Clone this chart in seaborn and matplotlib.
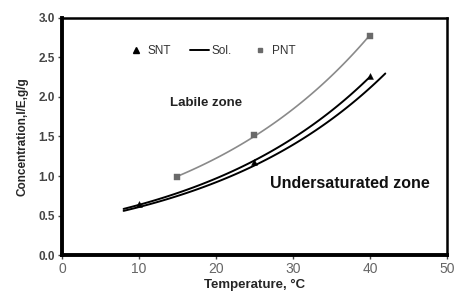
import numpy as np
import pandas as pd
import matplotlib
matplotlib.use("Agg")
import matplotlib.pyplot as plt
from matplotlib.lines import Line2D
import seaborn as sns

# data
snt_temp = [10, 25, 40]
snt_conc = [0.64, 1.18, 2.27]
pnt_temp = [15, 25, 40]
pnt_conc = [0.99, 1.52, 2.77]
sol_temp = [8, 25, 42]
sol_conc = [0.56, 1.13, 2.30]

x_ticks = [0, 10, 20, 30, 40, 50]
y_ticks = [0.0, 0.5, 1.0, 1.5, 2.0, 2.5, 3.0]

sns.set_theme(style="white")
plt.rcParams['font.family'] = ['Liberation Sans', 'DejaVu Sans']

def exp_fit(xs, ys, x0, x1):
    b, ln_a = np.polyfit(xs, np.log(ys), 1)
    xx = np.linspace(x0, x1, 100)
    return pd.DataFrame({"x": xx, "y": np.exp(ln_a + b * xx)})

fig = plt.figure(figsize=(4.56, 2.98), dpi=100)
ax = fig.add_axes([0.136, 0.144, 0.844, 0.796])

pnt_curve = exp_fit(pnt_temp, pnt_conc, 15, 40)
snt_curve = exp_fit(snt_temp, snt_conc, 8, 40)
sol_curve = exp_fit(sol_temp, sol_conc, 8, 42)

sns.lineplot(data=pnt_curve, x="x", y="y", ax=ax, color="#8a8a8a", linewidth=1.2)
sns.lineplot(data=snt_curve, x="x", y="y", ax=ax, color="black", linewidth=1.4)
sns.lineplot(data=sol_curve, x="x", y="y", ax=ax, color="black", linewidth=1.4)

sns.scatterplot(x=snt_temp, y=snt_conc, ax=ax, marker="^", color="black", s=18, edgecolor="black", zorder=5)
sns.scatterplot(x=pnt_temp, y=pnt_conc, ax=ax, marker="s", color="#6a6a6a", s=14, edgecolor="#6a6a6a", zorder=5)

ax.set_xlim(0, 50)
ax.set_ylim(0, 3.0)
ax.set_xticks(x_ticks)
ax.set_yticks(y_ticks)
ax.set_yticklabels([f"{v:.1f}" for v in y_ticks], fontweight="bold", color="#444444", fontsize=8.5)
ax.set_xticklabels([str(v) for v in x_ticks], color="#666666", fontsize=10)
ax.tick_params(axis="both", direction="out", length=3, width=1, color="#444444", pad=2, left=True, bottom=True)

ax.set_xlabel("Temperature, °C", fontweight="bold", fontsize=9.5, labelpad=2)
ax.set_ylabel("Concentration,l/E,g/g", fontweight="bold", fontsize=8.5, labelpad=7)

for side in ["left", "bottom"]:
    ax.spines[side].set_linewidth(2.8)
    ax.spines[side].set_color("black")
for side in ["top", "right"]:
    ax.spines[side].set_linewidth(1.8)
    ax.spines[side].set_color("black")

ax.text(14.0, 1.92, "Labile zone", fontweight="bold", fontsize=9.5, color="#222222", va="center")
ax.text(27, 0.90, "Undersaturated zone", fontweight="bold", fontsize=11.5, color="#111111", va="center")

handles = [
    Line2D([], [], marker="^", color="black", linestyle="none", markersize=4),
    Line2D([], [], color="black", linewidth=1.4),
    Line2D([], [], marker="s", color="#6a6a6a", linestyle="none", markersize=3.5),
]
ax.legend(handles, ["SNT", "Sol.", "PNT"], ncol=3, frameon=False, loc="upper left",
          bbox_to_anchor=(0.14, 0.93), fontsize=8.5, handlelength=1.6, columnspacing=1.6,
          handletextpad=0.2, labelcolor="#333333")

fig.savefig("out.png", dpi=100)
